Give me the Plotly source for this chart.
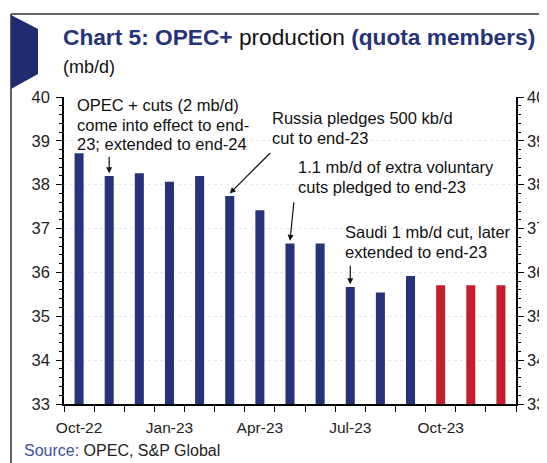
import plotly.graph_objects as go

# ---- data ----
months = ["Oct-22", "Nov-22", "Dec-22", "Jan-23", "Feb-23", "Mar-23", "Apr-23",
          "May-23", "Jun-23", "Jul-23", "Aug-23", "Sep-23", "Oct-23", "Nov-23", "Dec-23"]
production = [38.72, 38.20, 38.26, 38.07, 38.20, 37.74, 37.42,
              36.66, 36.66, 35.67, 35.54, 35.92, 35.71, 35.71, 35.71]
is_target = [False] * 12 + [True] * 3
tick_months = ["Oct-22", "Jan-23", "Apr-23", "Jul-23", "Oct-23"]
y_ticks = [33, 34, 35, 36, 37, 38, 39, 40]

notes = [
    ("Nov-22", ["OPEC + cuts (2 mb/d)", "come into effect to end-", "23; extended to end-24"]),
    ("Mar-23", ["Russia pledges 500 kb/d", "cut to end-23"]),
    ("May-23", ["1.1 mb/d of extra voluntary", "cuts pledged to end-23"]),
    ("Jul-23", ["Saudi 1 mb/d cut, later", "extended to end-23"]),
]

# ---- styling / geometry (pixel positions are in reference-image coordinates) ----
W, H = 547, 463
OFF = 8  # page body margin offset
PL, PR, PT, PB = 64, 516, 97, 404  # plot area edges
PW, PH = PR - PL, PB - PT
NAVY = "#25337a"
RED = "#c41f2f"
FONT = "Liberation Sans, Arial, sans-serif"

def px(x):
    return (x - PL) / PW

def py(y):
    return (PB - y) / PH

xi = list(range(len(months)))
colors = [RED if t else NAVY for t in is_target]

fig = go.Figure()
fig.add_trace(go.Bar(x=xi, y=production, marker=dict(color=colors, line=dict(width=0)),
                     width=0.3, base=0, showlegend=False, hoverinfo="skip"))
fig.add_trace(go.Scatter(x=xi, y=production, yaxis="y2", mode="lines",
                         line=dict(width=0), showlegend=False, hoverinfo="skip"))

axis_common = dict(range=[33, 40], tickvals=y_ticks, ticks="outside", ticklen=6,
                   tickwidth=1.3, tickcolor="black", showline=True, linecolor="black",
                   linewidth=1.5, tickfont=dict(family=FONT, size=16.5, color="#222"),
                   minor=dict(tickmode="linear", tick0=33, dtick=0.2, ticks="outside",
                              ticklen=3, tickwidth=1, tickcolor="black", showgrid=False),
                   zeroline=False, fixedrange=True, automargin=False)

fig.update_layout(
    width=W - OFF, height=H - OFF,
    margin=dict(l=PL - OFF, r=(W - OFF) - (PR - OFF), t=PT - OFF, b=(H - OFF) - (PB - OFF)),
    paper_bgcolor="white", plot_bgcolor="white",
    xaxis=dict(range=[-0.5, len(months) - 0.5], tickmode="array",
               tickvals=[months.index(m) for m in tick_months], ticktext=tick_months,
               ticks="", showline=True, linecolor="black", linewidth=1.5,
               tickfont=dict(family=FONT, size=15.5, color="#222"),
               ticklabelstandoff=9, automargin=False,
               minor=dict(tickmode="linear", tick0=0.5, dtick=1, ticks="outside",
                          ticklen=6, tickwidth=1.3, tickcolor="black", showgrid=False),
               showgrid=False, zeroline=False),
    yaxis=dict(**axis_common, ticklabelstandoff=3, showgrid=True, gridcolor="#e6e6e6",
               griddash="dot", gridwidth=1),
    yaxis2=dict(**axis_common, ticklabelstandoff=0, overlaying="y", side="right",
                showgrid=False),
)

anns = []
# title
anns.append(dict(xref="paper", yref="paper", x=px(61), y=py(37), xanchor="left", yanchor="middle",
                 showarrow=False, align="left",
                 text=f"<span style='color:{NAVY}'><b>Chart 5: OPEC+</b></span> production "
                      f"<span style='color:{NAVY}'><b>(quota members)</b></span>",
                 font=dict(family=FONT, size=22.7, color="#111")))
anns.append(dict(xref="paper", yref="paper", x=px(61), y=py(67), xanchor="left", yanchor="middle",
                 showarrow=False, text="(mb/d)", font=dict(family=FONT, size=18, color="#111")))
# source
anns.append(dict(xref="paper", yref="paper", x=px(22), y=py(450), xanchor="left", yanchor="middle",
                 showarrow=False,
                 text="<span style='color:#3e4f9e'>Source:</span> OPEC, S&amp;P Global",
                 font=dict(family=FONT, size=16, color="#222")))

# note text positions (pixels: left x, first-line centre y), line step, arrow tail offsets
text_pos = [(75, 105), (270, 118), (296, 167), (343, 232)]
LINE = 19.5
tails = [(0, -18), (42, -42), (4, -40), (0, -20)]
for (m, lines), (tx, ty), (dx, dy) in zip(notes, text_pos, tails):
    for k, line in enumerate(lines):
        anns.append(dict(xref="paper", yref="paper", x=px(tx), y=py(ty + k * LINE),
                         xanchor="left", yanchor="middle", showarrow=False, text=line,
                         font=dict(family=FONT, size=16.5, color="#111")))
    i = months.index(m)
    anns.append(dict(x=i, y=production[i] + 0.06, xref="x", yref="y", text="",
                     showarrow=True, arrowhead=2, arrowsize=1, arrowwidth=1.2,
                     arrowcolor="#111", ax=dx, ay=dy, standoff=0))
fig.update_layout(annotations=anns)

# frame and corner mark
fig.add_shape(type="line", xref="paper", yref="paper", x0=px(11), x1=px(W + 5),
              y0=py(14), y1=py(14), line=dict(color="#333", width=1.5))
fig.add_shape(type="line", xref="paper", yref="paper", x0=px(11), x1=px(11),
              y0=py(14), y1=py(H + 5), line=dict(color="#333", width=1.5))
pts = [(11, 15), (38, 29), (38, 74), (11, 89)]
path = "M " + " L ".join(f"{px(a):.5f},{py(b):.5f}" for a, b in pts) + " Z"
fig.add_shape(type="path", xref="paper", yref="paper", path=path,
              fillcolor="#1f2b6e", line=dict(width=0))

fig.write_html("out.html")
